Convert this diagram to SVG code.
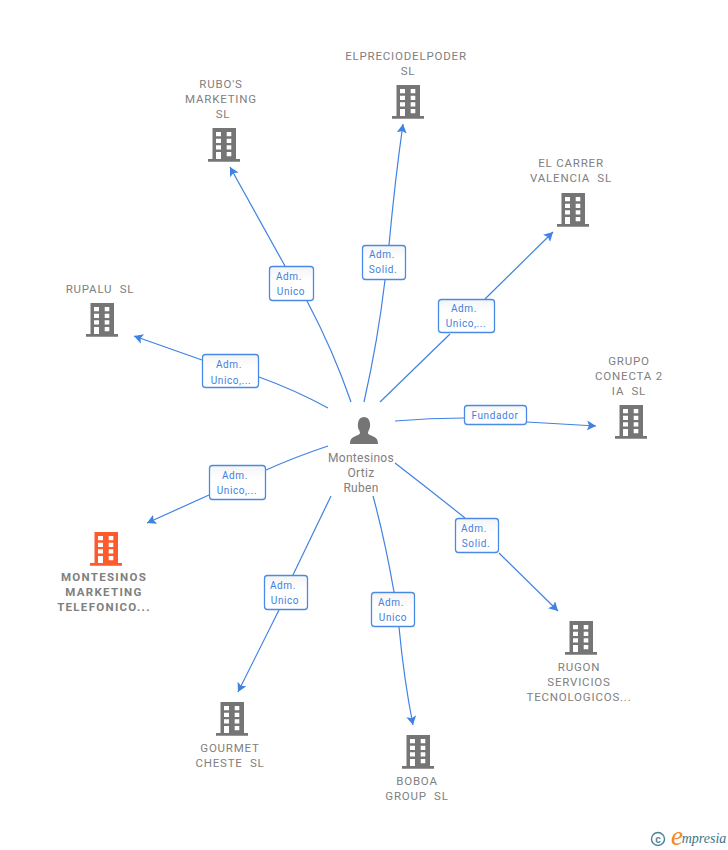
<svg xmlns="http://www.w3.org/2000/svg" xmlns:xlink="http://www.w3.org/1999/xlink" width="728" height="850" viewBox="0 0 728 850">
<style>
text{font-family:Roboto,"Liberation Sans",sans-serif;text-anchor:middle;white-space:pre}
.n{font-size:11.500px;fill:#808080;letter-spacing:.8px}
.p{font-size:12px;fill:#808080;letter-spacing:.3px}
.b{font-size:11.500px;font-weight:700;fill:#808080;letter-spacing:1.300px}
.l{font-size:10px;fill:#3f7fe0;letter-spacing:.6px}
.box{fill:url(#g);stroke:#4a8ae6;stroke-width:1.3}
.c{fill:none;stroke:#3f82e4;stroke-width:1.2;marker-end:url(#a)}
.c0{fill:none;stroke:#3f82e4;stroke-width:1.2}
</style>
<defs>
<linearGradient id="g" x1="0" y1="0" x2="0" y2="1"><stop offset="0" stop-color="#f4f4f4"/><stop offset=".4" stop-color="#fff"/></linearGradient>
<marker id="a" markerUnits="userSpaceOnUse" markerWidth="12" markerHeight="12" refX="9" refY="5" orient="auto"><path d="M0 0L9 5L0 10L2 5Z" fill="#3f82e4"/></marker>
<path id="bld" fill-rule="evenodd" d="M-11.500 0H12V31H16V33.700H-16V31H-11.500ZM-8 4V8.300H-3V4ZM2.700 4V8.300H7.300V4ZM-8 10.700V15H-3V10.700ZM2.700 10.700V15H7.300V10.700ZM-8 17.300V21.600H-3V17.300ZM2.700 17.300V21.600H7.300V17.300ZM-8 24V31H-3V24ZM2.700 24V28.300H7.300V24Z"/>
</defs>
<rect width="728" height="850" fill="#fff"/>
<g id="connectors">
<path class="c0" d="M351 402Q333 350 307 301"/><path class="c" d="M285 266L230 167"/>
<path class="c0" d="M364 402Q378 340 385 280"/><path class="c" d="M389 245Q395 180 403 124"/>
<path class="c0" d="M380 402L450 334"/><path class="c" d="M485 299L553 232"/>
<path class="c0" d="M328 408Q295 390 259 377"/><path class="c" d="M202 360L134 336"/>
<path class="c0" d="M395 421Q430 418 464 418"/><path class="c" d="M527 422L596 426"/>
<path class="c0" d="M328 446Q295 457 266 470"/><path class="c" d="M209 495L147 523"/>
<path class="c0" d="M331 496L292 577"/><path class="c" d="M279 610L238 692"/>
<path class="c0" d="M373 496Q385 540 394 592"/><path class="c" d="M399 627Q404 680 413 725"/>
<path class="c0" d="M395 463Q430 490 465 518"/><path class="c" d="M499 553L558 611"/>
</g>
<g id="label-rubos"><rect class="box" x="269.500" y="266.500" width="44" height="34" rx="3"/><text class="l" x="289" y="280">Adm.</text><text class="l" x="291" y="295">Unico</text></g>
<g id="label-elprecio"><rect class="box" x="362.500" y="245.500" width="43" height="34" rx="3"/><text class="l" x="382" y="258">Adm.</text><text class="l" x="383" y="273">Solid.</text></g>
<g id="label-carrer"><rect class="box" x="438.500" y="299.500" width="56" height="33" rx="3"/><text class="l" x="464" y="312">Adm.</text><text class="l" x="466" y="327">Unico,...</text></g>
<g id="label-rupalu"><rect class="box" x="202.500" y="354.500" width="56" height="33" rx="3"/><text class="l" x="229" y="368">Adm.</text><text class="l" x="231" y="384">Unico,...</text></g>
<g id="label-grupo"><rect class="box" x="464.500" y="405.500" width="62" height="19" rx="3"/><text class="l" x="495" y="419">Fundador</text></g>
<g id="label-montesinos"><rect class="box" x="209.500" y="465.500" width="56" height="34" rx="3"/><text class="l" x="235" y="479">Adm.</text><text class="l" x="237" y="494">Unico,...</text></g>
<g id="label-gourmet"><rect class="box" x="264.500" y="575.500" width="43" height="34" rx="3"/><text class="l" x="283" y="589">Adm.</text><text class="l" x="285" y="604">Unico</text></g>
<g id="label-boboa"><rect class="box" x="371.500" y="592.500" width="43" height="34" rx="3"/><text class="l" x="391" y="606">Adm.</text><text class="l" x="393" y="621">Unico</text></g>
<g id="label-rugon"><rect class="box" x="455.500" y="518.500" width="43" height="34" rx="3"/><text class="l" x="474" y="532">Adm.</text><text class="l" x="476" y="547">Solid.</text></g>
<g id="node-elprecio"><text class="n" x="406" y="60">ELPRECIODELPODER</text><text class="n" x="408" y="75">SL</text><use xlink:href="#bld" href="#bld" x="408" y="85" fill="#757575"/></g>
<g id="node-rubos"><text class="n" x="221" y="88">RUBO'S</text><text class="n" x="221" y="103">MARKETING</text><text class="n" x="223" y="118">SL</text><use xlink:href="#bld" href="#bld" x="224" y="128" fill="#757575"/></g>
<g id="node-carrer"><text class="n" x="571" y="167">EL CARRER</text><text class="n" x="571" y="182">VALENCIA  SL</text><use xlink:href="#bld" href="#bld" x="573" y="193" fill="#757575"/></g>
<g id="node-rupalu"><text class="n" x="100" y="293">RUPALU  SL</text><use xlink:href="#bld" href="#bld" x="102" y="303" fill="#757575"/></g>
<g id="node-grupo"><text class="n" x="629" y="365">GRUPO</text><text class="n" x="629" y="380">CONECTA 2</text><text class="n" x="629" y="395">IA  SL</text><use xlink:href="#bld" href="#bld" x="631" y="405" fill="#757575"/></g>
<g id="node-rugon"><use xlink:href="#bld" href="#bld" x="581" y="621" fill="#757575"/><text class="n" x="579" y="671">RUGON</text><text class="n" x="579" y="686">SERVICIOS</text><text class="n" x="579" y="701">TECNOLOGICOS...</text></g>
<g id="node-boboa"><use xlink:href="#bld" href="#bld" x="418" y="735" fill="#757575"/><text class="n" x="417" y="785">BOBOA</text><text class="n" x="417" y="800">GROUP  SL</text></g>
<g id="node-gourmet"><use xlink:href="#bld" href="#bld" x="232" y="702" fill="#757575"/><text class="n" x="230" y="752">GOURMET</text><text class="n" x="230" y="767">CHESTE  SL</text></g>
<g id="node-montesinos"><use xlink:href="#bld" href="#bld" x="106" y="532" fill="#ff5a2c"/><text class="b" x="104" y="581">MONTESINOS</text><text class="b" x="104" y="596">MARKETING</text><text class="b" x="104" y="611">TELEFONICO...</text></g>
<g id="node-person"><path d="M350 444C350 438 353 437 358 435C361 434 360 432 359 430C357 427 357 417 364 417C371 417 371 427 369 430C368 432 367 434 370 435C375 437 378 438 378 444Z" fill="#757575"/><text class="p" x="361" y="462">Montesinos</text><text class="p" x="361" y="477">Ortiz</text><text class="p" x="361" y="492">Ruben</text></g>
<g id="logo"><circle cx="658" cy="839" r="6.500" fill="none" stroke="#4d8196" stroke-width="1.400"/><text x="658" y="842.500" style="font-size:10px;font-weight:700;font-family:'Liberation Sans',sans-serif" fill="#4d8196">c</text><text x="677" y="845" style="font-size:27px;font-style:italic;font-family:'Liberation Serif',serif" fill="#f08a24">e</text><text x="704" y="843" style="font-size:14px;font-style:italic;font-family:'Liberation Serif',serif" fill="#3d7488">mpresia</text></g>
</svg>
